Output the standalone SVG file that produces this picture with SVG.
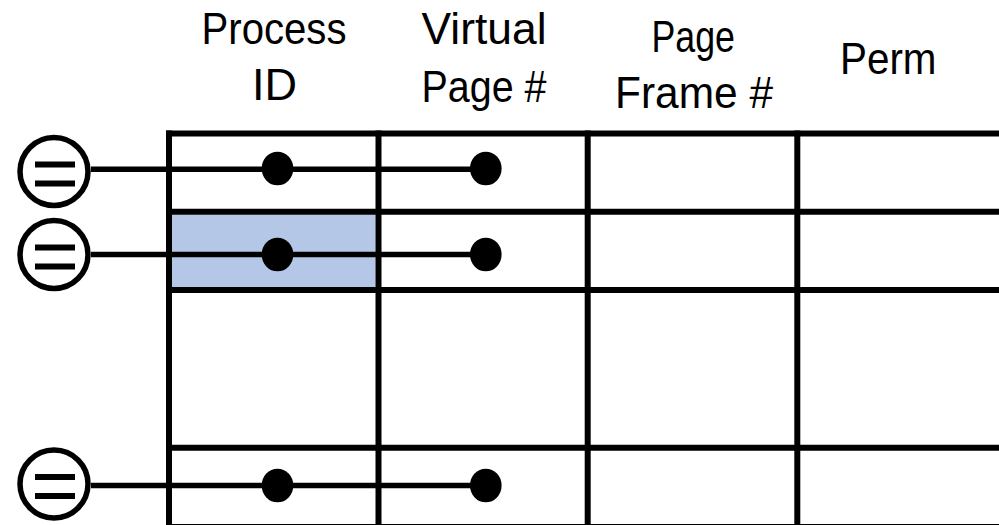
<svg xmlns="http://www.w3.org/2000/svg" width="999" height="525" viewBox="0 0 999 525">
  <style>
    .hdr { font-family: "Liberation Sans", Arial, sans-serif; font-size: 44px; fill: #000; }
    .grid { stroke: #000; stroke-width: 6; fill: none; }
    .wire { stroke: #000; stroke-width: 5.5; fill: none; }
    .dot { fill: #000; }
    .cmp { fill: #fff; stroke: #000; stroke-width: 5.5; }
    .bar { fill: #000; }
  </style>
  <defs>
    <g id="eq">
      <circle class="cmp" cx="0" cy="0" r="34"/>
      <rect class="bar" x="-19" y="-10" width="40" height="6"/>
      <rect class="bar" x="-19" y="9" width="40" height="6"/>
    </g>
  </defs>
  <rect width="999" height="525" fill="#fff"/>

  <g id="headers">
    <text class="hdr" x="201.5" y="43.5" textLength="145" lengthAdjust="spacingAndGlyphs">Process</text>
    <text class="hdr" x="252" y="100" textLength="45" lengthAdjust="spacingAndGlyphs">ID</text>
    <text class="hdr" x="421.5" y="44" textLength="125" lengthAdjust="spacingAndGlyphs">Virtual</text>
    <text class="hdr" x="421.5" y="102" textLength="125" lengthAdjust="spacingAndGlyphs">Page #</text>
    <text class="hdr" x="651.5" y="52" textLength="83.5" lengthAdjust="spacingAndGlyphs">Page</text>
    <text class="hdr" x="615" y="108" textLength="158" lengthAdjust="spacingAndGlyphs">Frame #</text>
    <text class="hdr" x="840" y="74" textLength="96.5" lengthAdjust="spacingAndGlyphs">Perm</text>
  </g>

  <g id="table">
    <rect x="171.5" y="214.5" width="204" height="73" fill="#B4C7E7"/>
    <line class="grid" x1="166" y1="133.5" x2="999" y2="133.5"/>
    <line class="grid" x1="166" y1="211.7" x2="999" y2="211.7"/>
    <line class="grid" x1="166" y1="290" x2="999" y2="290"/>
    <line class="grid" x1="166" y1="447.7" x2="999" y2="447.7"/>
    <line class="grid" x1="166" y1="527" x2="999" y2="527"/>
    <line class="grid" x1="169" y1="130.5" x2="169" y2="525"/>
    <line class="grid" x1="378.5" y1="130.5" x2="378.5" y2="525"/>
    <line class="grid" x1="587.7" y1="130.5" x2="587.7" y2="525"/>
    <line class="grid" x1="797.3" y1="130.5" x2="797.3" y2="525"/>
  </g>

  <g id="connectors">
    <line class="wire" x1="91" y1="169.3" x2="486" y2="169.3"/>
    <line class="wire" x1="91" y1="254.5" x2="486" y2="254.5"/>
    <line class="wire" x1="91" y1="485.5" x2="486" y2="485.5"/>
  </g>

  <g id="row1">
    <use href="#eq" x="54" y="171.5"/>
    <ellipse class="dot" cx="277.5" cy="168.5" rx="15.8" ry="16.8"/>
    <ellipse class="dot" cx="485.8" cy="168.5" rx="15.8" ry="16.8"/>
  </g>
  <g id="row2">
    <use href="#eq" x="54" y="254.5"/>
    <ellipse class="dot" cx="277.5" cy="254.5" rx="15.8" ry="16.8"/>
    <ellipse class="dot" cx="485.8" cy="254.5" rx="15.8" ry="16.8"/>
  </g>
  <g id="row4">
    <use href="#eq" x="54" y="484"/>
    <ellipse class="dot" cx="277.5" cy="485.5" rx="15.8" ry="16.8"/>
    <ellipse class="dot" cx="485.8" cy="485.5" rx="15.8" ry="16.8"/>
  </g>
</svg>
